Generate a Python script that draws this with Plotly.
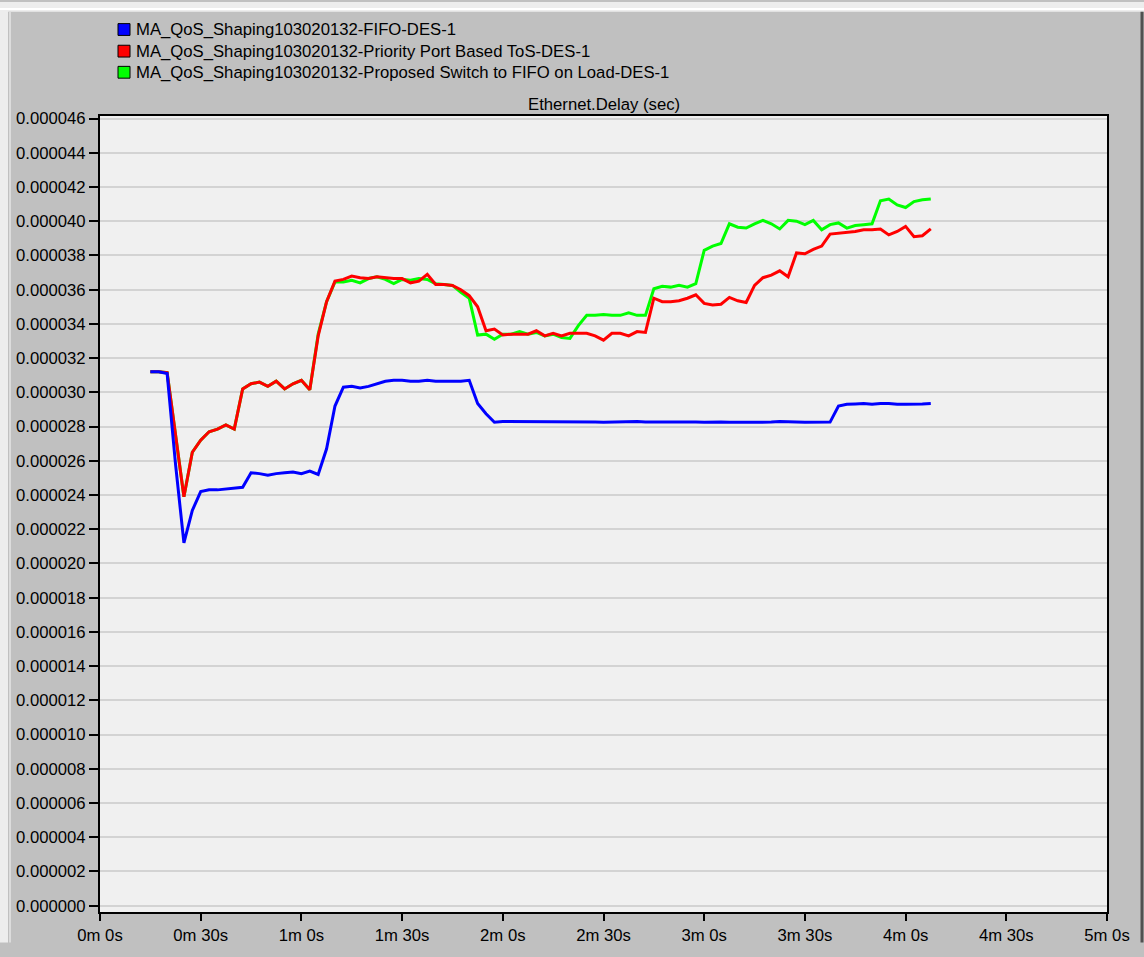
import plotly.graph_objects as go

# ---------------- data (delay values in microseconds) ----------------
time_s = [15, 17.5, 20, 22.5, 25, 27.5, 30, 32.5, 35, 37.5, 40, 42.5, 45, 47.5, 50, 52.5,
          55, 57.5, 60, 62.5, 65, 67.5, 70, 72.5, 75, 77.5, 80, 82.5, 85, 87.5, 90, 92.5,
          95, 97.5, 100, 102.5, 105, 107.5, 110, 112.5, 115, 117.5, 120, 122.5, 125, 127.5,
          130, 132.5, 135, 137.5, 140, 142.5, 145, 147.5, 150, 152.5, 155, 157.5, 160, 162.5,
          165, 167.5, 170, 172.5, 175, 177.5, 180, 182.5, 185, 187.5, 190, 192.5, 195, 197.5,
          200, 202.5, 205, 207.5, 210, 212.5, 215, 217.5, 220, 222.5, 225, 227.5, 230, 232.5,
          235, 237.5, 240, 242.5, 245, 247.5]

fifo_us = [31.2, 31.2, 31.1, 25.8, 21.2, 23.1, 24.2, 24.3, 24.3, 24.35, 24.4, 24.45, 25.3, 25.25,
           25.15, 25.25, 25.3, 25.35, 25.25, 25.4, 25.2, 26.7, 29.2, 30.3, 30.35, 30.25, 30.35,
           30.5, 30.65, 30.7, 30.7, 30.65, 30.65, 30.7, 30.65, 30.65, 30.65, 30.65, 30.7, 29.35,
           28.75, 28.25, 28.3, 28.3, 28.3, 28.28, 28.27, 28.28, 28.27, 28.27, 28.27, 28.26, 28.27,
           28.26, 28.25, 28.27, 28.25, 28.27, 28.3, 28.27, 28.25, 28.27, 28.27, 28.28, 28.27,
           28.26, 28.25, 28.27, 28.27, 28.25, 28.25, 28.25, 28.27, 28.25, 28.26, 28.3, 28.26,
           28.26, 28.25, 28.25, 28.27, 28.26, 29.2, 29.3, 29.32, 29.35, 29.3, 29.35, 29.35, 29.3,
           29.3, 29.3, 29.32, 29.35]

priority_us = [31.2, 31.2, 31.15, 27.6, 23.9, 26.5, 27.2, 27.7, 27.85, 28.1, 27.85, 30.2, 30.5,
               30.6, 30.35, 30.65, 30.2, 30.5, 30.7, 30.15, 33.3, 35.3, 36.5, 36.6, 36.8, 36.7,
               36.65, 36.75, 36.7, 36.65, 36.65, 36.4, 36.5, 36.9, 36.3, 36.3, 36.25, 36.0, 35.65,
               35.0, 33.6, 33.7, 33.35, 33.4, 33.4, 33.4, 33.6, 33.3, 33.45, 33.3, 33.45, 33.45,
               33.45, 33.3, 33.05, 33.45, 33.45, 33.3, 33.55, 33.5, 35.5, 35.3, 35.3, 35.35, 35.5,
               35.7, 35.2, 35.1, 35.15, 35.55, 35.35, 35.25, 36.25, 36.7, 36.85, 37.1, 36.75, 38.15,
               38.1, 38.35, 38.55, 39.25, 39.3, 39.35, 39.4, 39.5, 39.5, 39.55, 39.2, 39.4, 39.7,
               39.1, 39.15, 39.55]

proposed_us = [31.2, 31.2, 31.15, 27.6, 23.9, 26.5, 27.2, 27.7, 27.85, 28.1, 27.85, 30.2, 30.5,
               30.6, 30.35, 30.65, 30.2, 30.5, 30.7, 30.15, 33.4, 35.3, 36.45, 36.45, 36.55, 36.4,
               36.65, 36.75, 36.6, 36.35, 36.6, 36.55, 36.65, 36.6, 36.35, 36.3, 36.25, 35.85, 35.5,
               33.35, 33.4, 33.1, 33.4, 33.4, 33.55, 33.4, 33.5, 33.3, 33.4, 33.2, 33.15, 33.9,
               34.5, 34.5, 34.55, 34.5, 34.5, 34.65, 34.5, 34.5, 36.05, 36.2, 36.15, 36.25, 36.15,
               36.35, 38.3, 38.55, 38.7, 39.85, 39.65, 39.6, 39.85, 40.05, 39.85, 39.55, 40.05, 40.0,
               39.8, 40.05, 39.5, 39.8, 39.9, 39.6, 39.75, 39.8, 39.85, 41.2, 41.3, 40.95, 40.8,
               41.15, 41.25, 41.3]

series_names = ["MA_QoS_Shaping103020132-FIFO-DES-1",
                "MA_QoS_Shaping103020132-Priority Port Based ToS-DES-1",
                "MA_QoS_Shaping103020132-Proposed Switch to FIFO on Load-DES-1"]
series_colors = ["#0000ff", "#ff0000", "#00ff00"]

x_tick_vals = [0, 30, 60, 90, 120, 150, 180, 210, 240, 270, 300]
x_tick_text = ["0m 0s", "0m 30s", "1m 0s", "1m 30s", "2m 0s", "2m 30s",
               "3m 0s", "3m 30s", "4m 0s", "4m 30s", "5m 0s"]

chart_title = "Ethernet.Delay (sec)"

# ---------------- layout geometry ----------------
W, H = 1144, 957
PL, PR, PT, PB = 100, 1107, 116, 926   # plot area in pixels


def px(x):
    return (x - PL) / (PR - PL)


def py(y):
    return (PB - y) / (PB - PT)


FONT = "Liberation Sans, Arial, sans-serif"
FS = 16.7

fig = go.Figure()
order = [2, 1, 0]
data_sets = [fifo_us, priority_us, proposed_us]
for i in order:
    fig.add_trace(go.Scatter(
        x=time_s, y=[v * 1e-6 for v in data_sets[i]], mode="lines",
        name=series_names[i], line=dict(color=series_colors[i], width=3),
        showlegend=False, hoverinfo="skip"))

shapes = []
# window frame
shapes.append(dict(type="rect", xref="paper", yref="paper", x0=px(0), x1=px(W), y0=py(0), y1=py(10),
                   fillcolor="#ededed", line=dict(width=0), layer="below"))
shapes.append(dict(type="rect", xref="paper", yref="paper", x0=px(0), x1=px(8), y0=py(H), y1=py(0),
                   fillcolor="#ededed", line=dict(width=0), layer="below"))
shapes.append(dict(type="line", xref="paper", yref="paper", x0=px(0), x1=px(W), y0=py(7), y1=py(7),
                   line=dict(color="#ffffff", width=2), layer="below"))
shapes.append(dict(type="line", xref="paper", yref="paper", x0=px(10), x1=px(10), y0=py(H), y1=py(10),
                   line=dict(color="#dcdcdc", width=2), layer="below"))
shapes.append(dict(type="line", xref="paper", yref="paper", x0=px(1142), x1=px(1142), y0=py(H), y1=py(10),
                   line=dict(color="#505050", width=3), layer="below"))

# legend squares
rows = [28, 50, 71.5]
for c, r in zip(series_colors, rows):
    shapes.append(dict(type="rect", xref="paper", yref="paper", x0=px(118), x1=px(130),
                       y0=py(r + 6), y1=py(r - 6), fillcolor=c, line=dict(color="#000000", width=1)))

annotations = []
for name, r in zip(series_names, rows):
    annotations.append(dict(xref="paper", yref="paper", x=px(134), y=py(r), xanchor="left",
                            yanchor="middle", text=name, showarrow=False,
                            font=dict(family=FONT, size=FS, color="#000000")))
annotations.append(dict(xref="paper", yref="paper", x=0.5, y=py(104), xanchor="center",
                        yanchor="middle", text=chart_title, showarrow=False,
                        font=dict(family=FONT, size=FS, color="#000000")))

fig.update_layout(
    width=W, height=H,
    margin=dict(l=PL, r=W - PR, t=PT, b=H - PB, pad=0),
    paper_bgcolor="#c0c0c0",
    plot_bgcolor="#f0f0f0",
    shapes=shapes,
    annotations=annotations,
    showlegend=False,
    hovermode=False,
    font=dict(family=FONT, size=FS, color="#000000"),
)

fig.update_xaxes(
    range=[0, 300], tickvals=x_tick_vals, ticktext=x_tick_text,
    showgrid=False, zeroline=False,
    showline=True, linecolor="#000000", linewidth=2, mirror=True,
    ticks="outside", ticklen=7, tickwidth=2, tickcolor="#000000",
    tickfont=dict(family=FONT, size=FS, color="#000000"),
)
fig.update_yaxes(
    range=[-0.37e-6, 46.15e-6], tick0=0, dtick=2e-6, tickformat=".6f",
    showgrid=True, gridcolor="#d3d3d3", gridwidth=2, zeroline=False,
    showline=True, linecolor="#000000", linewidth=2, mirror=True,
    ticks="outside", ticklen=9, tickwidth=2, tickcolor="#000000",
    tickfont=dict(family=FONT, size=FS, color="#000000"),
)

fig.write_html(
    "out.html",
    config={"displayModeBar": False},
    post_script=(
        "var d=document.documentElement, b=document.body;"
        "var g=document.querySelector('.plotly-graph-div');"
        "if(g){g.style.position='absolute'; g.style.top='0px'; g.style.left='0px';}"
        "d.style.margin='0'; d.style.padding='0'; d.style.overflow='hidden';"
        "d.style.background='#c0c0c0';"
        "b.style.margin='0'; b.style.padding='0'; b.style.overflow='hidden';"
        "b.style.background='#c0c0c0';"
    ),
)
